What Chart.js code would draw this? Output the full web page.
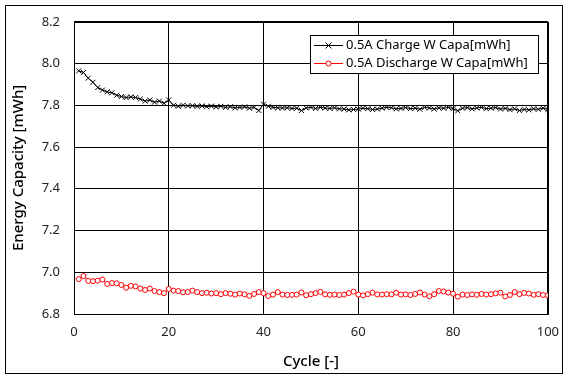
<!DOCTYPE html>
<html><head><meta charset="utf-8">
<script src="https://cdn.jsdelivr.net/npm/chart.js@4"></script>
<style>html,body{margin:0;padding:0;background:#fff}#wrap{width:569px;height:380px}</style>
</head><body><div id="wrap"><canvas id="c" width="569" height="380"></canvas></div>
<script>
const cycles = Array.from({length:100},(_,i)=>i+1);
const chargeLabel = '0.5A Charge W Capa[mWh]';
const dischargeLabel = '0.5A Discharge W Capa[mWh]';
const chargeValues = [7.965,7.957,7.93,7.91,7.885,7.873,7.864,7.86,7.848,7.842,7.837,7.84,7.837,7.83,7.82,7.825,7.815,7.82,7.81,7.825,
7.80,7.795,7.80,7.797,7.798,7.795,7.797,7.793,7.796,7.792,7.795,7.79,7.793,7.788,7.79,7.792,7.786,7.79,7.775,7.805,
7.795,7.79,7.788,7.787,7.788,7.785,7.786,7.775,7.787,7.79,7.785,7.79,7.787,7.785,7.788,7.783,7.782,7.778,7.78,7.782,
7.786,7.784,7.78,7.782,7.786,7.79,7.788,7.783,7.785,7.789,7.784,7.786,7.781,7.79,7.787,7.782,7.788,7.786,7.79,7.784,
7.774,7.786,7.789,7.783,7.787,7.79,7.784,7.786,7.789,7.782,7.785,7.779,7.783,7.775,7.78,7.778,7.783,7.781,7.786,7.78];
const dischargeValues = [6.967,6.982,6.959,6.957,6.96,6.965,6.944,6.948,6.947,6.939,6.926,6.935,6.932,6.922,6.915,6.922,6.91,6.905,6.90,6.92,
6.912,6.91,6.904,6.905,6.912,6.905,6.9,6.902,6.898,6.9,6.895,6.9,6.897,6.893,6.898,6.894,6.887,6.896,6.905,6.9,
6.886,6.893,6.905,6.893,6.891,6.892,6.893,6.903,6.89,6.895,6.9,6.906,6.894,6.892,6.893,6.891,6.893,6.9,6.907,6.893,
6.889,6.895,6.902,6.894,6.893,6.895,6.894,6.902,6.893,6.894,6.891,6.896,6.903,6.893,6.885,6.895,6.91,6.908,6.903,6.897,
6.883,6.893,6.891,6.894,6.892,6.896,6.893,6.895,6.899,6.902,6.884,6.891,6.905,6.895,6.901,6.898,6.892,6.895,6.891,6.889];
const xTicks = [0,20,40,60,80,100];
const yTicks = [6.8,7.0,7.2,7.4,7.6,7.8,8.0,8.2];
const xTitle = 'Cycle [-]';
const yTitle = 'Energy Capacity [mWh]';

const FONT = "'Noto Sans', 'DejaVu Sans', sans-serif";

const frame = {
  id:'frame',
  beforeDraw(chart){
    const ctx = chart.ctx;
    ctx.save();
    ctx.fillStyle='#fff'; ctx.fillRect(0,0,chart.width,chart.height);
    ctx.strokeStyle='#000'; ctx.lineWidth=1;
    ctx.strokeRect(5.5,5.5,557,368);
    ctx.restore();
  },
  afterDatasetsDraw(chart){
    const ctx = chart.ctx;
    const a = chart.chartArea;
    ctx.save();
    ctx.strokeStyle='#000'; ctx.lineWidth=1;
    ctx.strokeRect(Math.round(a.left)+0.5, Math.round(a.top)+0.5, Math.round(a.right-a.left), Math.round(a.bottom-a.top));
    // legend
    const bx=310.5, by=35.5, bw=228, bh=38;
    ctx.fillStyle='#fff'; ctx.fillRect(bx,by,bw,bh);
    ctx.strokeRect(bx,by,bw,bh);
    ctx.font = "13px " + FONT;
    ctx.textBaseline='middle';
    chart.data.datasets.forEach((ds,i)=>{
      const y = Math.round(45 + i*18)+0.5;
      ctx.strokeStyle = ds.borderColor; ctx.lineWidth=1;
      ctx.beginPath(); ctx.moveTo(314,y); ctx.lineTo(343,y); ctx.stroke();
      if (ds.pointStyle==='crossRot'){
        ctx.beginPath(); ctx.moveTo(325.5,y-3); ctx.lineTo(331.5,y+3); ctx.moveTo(331.5,y-3); ctx.lineTo(325.5,y+3); ctx.stroke();
      } else {
        ctx.fillStyle='#fff'; ctx.beginPath(); ctx.arc(328.5,y,2.5,0,Math.PI*2); ctx.fill(); ctx.stroke();
      }
      ctx.fillStyle='#000';
      ctx.fillText(ds.label, 346, y);
    });
    ctx.restore();
  }
};

new Chart(document.getElementById('c'), {
  type:'line',
  data:{
    datasets:[
      {label:chargeLabel, data:cycles.map((c,i)=>({x:c,y:chargeValues[i]})), borderColor:'#000', backgroundColor:'#000',
       borderWidth:1, pointStyle:'crossRot', pointRadius:3.5, pointBorderWidth:1, pointBorderColor:'#000', tension:0},
      {label:dischargeLabel, data:cycles.map((c,i)=>({x:c,y:dischargeValues[i]})), borderColor:'#ff0000', backgroundColor:'#fff',
       borderWidth:1, pointStyle:'circle', pointRadius:2.5, pointBorderWidth:1, pointBorderColor:'#ff0000', pointBackgroundColor:'#fff', tension:0}
    ]
  },
  options:{
    responsive:false, animation:false, devicePixelRatio:1,
    layout:{padding:{left:6, right:20, top:16, bottom:6}},
    plugins:{legend:{display:false}, tooltip:{enabled:false}},
    scales:{
      x:{type:'linear', min:0, max:100,
        afterBuildTicks(s){ s.ticks = xTicks.map(v=>({value:v})); },
        afterFit(s){ s.height = 380-314-6; },
        grid:{color:'#000', lineWidth:1, drawTicks:false},
        border:{display:false},
        ticks:{color:'#222', font:{family:FONT, size:13}, padding:10, maxRotation:0, callback:v=>String(v)},
        title:{display:true, text:xTitle, color:'#000', font:{family:FONT, size:15, weight:'500'}, padding:{top:0,bottom:3}}
      },
      y:{type:'linear', min:6.8, max:8.2,
        afterBuildTicks(s){ s.ticks = yTicks.map(v=>({value:v})); },
        afterFit(s){ s.width = 74-6; },
        grid:{color:'#000', lineWidth:1, drawTicks:false},
        border:{display:false},
        ticks:{color:'#222', font:{family:FONT, size:13}, padding:14, callback:v=>v.toFixed(1)},
        title:{display:true, text:yTitle, color:'#000', font:{family:FONT, size:15, weight:'500'}, padding:{top:4,bottom:0}}
      }
    }
  },
  plugins:[frame]
});
</script></body></html>
